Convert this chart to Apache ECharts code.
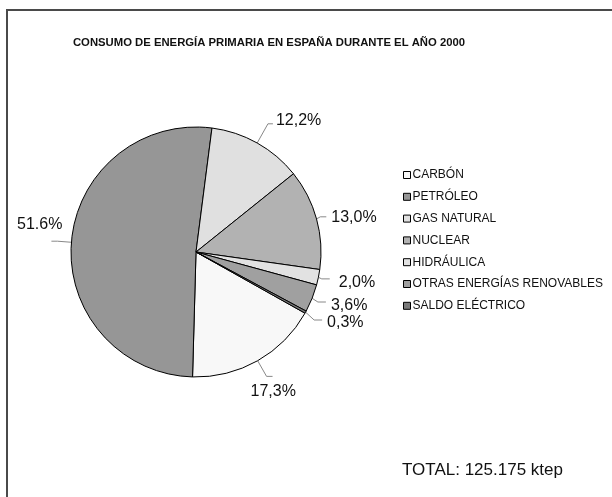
<!DOCTYPE html>
<html>
<head>
<meta charset="utf-8">
<script src="https://cdn.jsdelivr.net/npm/echarts@6/dist/echarts.min.js"></script>
<style>
html,body{margin:0;padding:0;background:#fff;}
#chart{width:612px;height:497px;}
</style>
</head>
<body>
<div id="chart"></div>
<script>
var titleText = 'CONSUMO DE ENERGÍA PRIMARIA EN ESPAÑA DURANTE EL AÑO 2000';
var totalText = 'TOTAL: 125.175 ktep';
var categories = ['CARBÓN', 'PETRÓLEO', 'GAS NATURAL', 'NUCLEAR', 'HIDRÁULICA', 'OTRAS ENERGÍAS RENOVABLES', 'SALDO ELÉCTRICO'];
var values = [17.3, 51.6, 12.2, 13.0, 2.0, 3.6, 0.3];
var valueLabels = ['17,3%', '51.6%', '12,2%', '13,0%', '2,0%', '3,6%', '0,3%'];
var colors = ['#f8f8f8', '#969696', '#e0e0e0', '#b2b2b2', '#e2e2e2', '#a0a0a0', '#7a7a7a'];
var lineLen = [18, 14, 22, 8, 8, 10, 14];
var lineLen2 = [6, 6, 5, 6, 8, 8, 8];
var labelShift = [[-27, 15], [16, -17], [-2, -3], [0, 1], [4, 4], [0, 4], [0, 3]];

var data = categories.map(function (c, i) {
  return {
    name: c,
    value: values[i],
    itemStyle: { color: colors[i] },
    label: { formatter: valueLabels[i] },
    labelLine: { length: lineLen[i], length2: lineLen2[i] }
  };
});

var chart = echarts.init(document.getElementById('chart'), null, { renderer: 'canvas' });
chart.setOption({
  backgroundColor: '#ffffff',
  animation: false,
  title: [{
    text: titleText,
    left: 269, top: 37, textAlign: 'center', padding: 0,
    textStyle: { fontFamily: 'Liberation Sans, Arial, sans-serif', fontWeight: 'bold', fontSize: 11.3, color: '#111' }
  }, {
    text: totalText,
    left: 402, top: 462, padding: 0,
    textStyle: { fontFamily: 'Liberation Sans, Arial, sans-serif', fontWeight: 'normal', fontSize: 17, color: '#111' }
  }],
  graphic: [{
    type: 'polyline',
    shape: { points: [[7, 497], [7, 10], [612, 10]] },
    style: { stroke: '#4a4a4a', lineWidth: 2, fill: null }
  }],
  legend: {
    orient: 'vertical',
    left: 403, top: 169, padding: 0,
    itemWidth: 7, itemHeight: 7, itemGap: 9.8,
    icon: 'rect',
    itemStyle: { borderColor: '#000', borderWidth: 1 },
    textStyle: { fontFamily: 'Liberation Sans, Arial, sans-serif', fontSize: 12, color: '#111', lineHeight: 12, padding: [0, 0, 0, -3] },
    data: categories
  },
  series: [{
    type: 'pie',
    center: [196, 252],
    radius: 125,
    startAngle: -29.3,
    clockwise: true,
    avoidLabelOverlap: true,
    itemStyle: { borderColor: '#000', borderWidth: 1 },
    label: {
      show: true, position: 'outside', overflow: 'none',
      fontFamily: 'Liberation Sans, Arial, sans-serif', fontSize: 16, color: '#111'
    },
    labelLine: { show: true, lineStyle: { color: '#888', width: 1 } },
    labelLayout: function (p) {
      var s = labelShift[p.dataIndex];
      return { dx: s[0], dy: s[1] };
    },
    emphasis: { disabled: true },
    data: data
  }]
});
</script>
</body>
</html>
